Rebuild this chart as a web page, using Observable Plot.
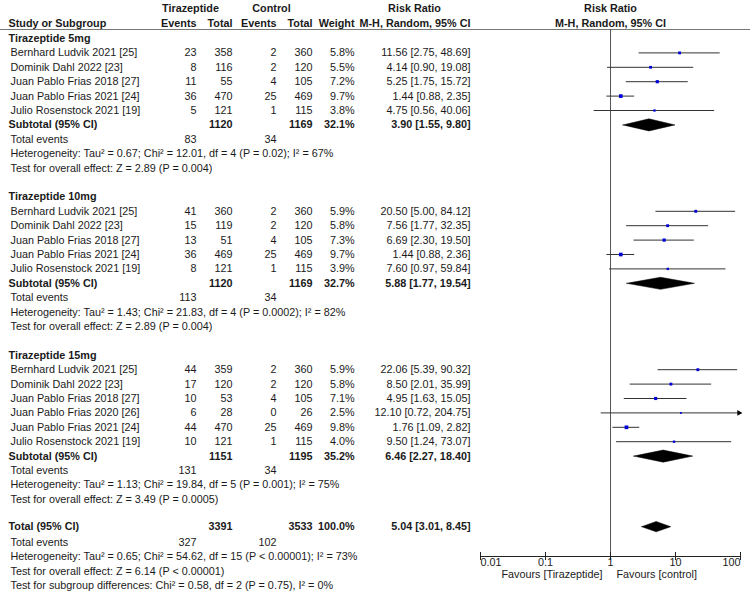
<!DOCTYPE html>
<html><head><meta charset="utf-8">
<script src="https://cdn.jsdelivr.net/npm/d3@7"></script>
<script src="https://cdn.jsdelivr.net/npm/@observablehq/plot@0.6"></script>
<style>
body{margin:0;background:#fff}
#chart{width:750px;height:591px;overflow:hidden}
</style>
</head><body><div id="chart"></div>
<script>
// ---------- data ----------
const groupNames = ["Tirazeptide 5mg", "Tirazeptide 10mg", "Tirazeptide 15mg"];
const studyNames = [
  "Bernhard Ludvik 2021 [25]", "Dominik Dahl 2022 [23]", "Juan Pablo Frias 2018 [27]", "Juan Pablo Frias 2021 [24]", "Julio Rosenstock 2021 [19]",
  "Bernhard Ludvik 2021 [25]", "Dominik Dahl 2022 [23]", "Juan Pablo Frias 2018 [27]", "Juan Pablo Frias 2021 [24]", "Julio Rosenstock 2021 [19]",
  "Bernhard Ludvik 2021 [25]", "Dominik Dahl 2022 [23]", "Juan Pablo Frias 2018 [27]", "Juan Pablo Frias 2020 [26]", "Juan Pablo Frias 2021 [24]", "Julio Rosenstock 2021 [19]"
];
const studyGroup = [0,0,0,0,0, 1,1,1,1,1, 2,2,2,2,2,2];
const expEvents = [23,8,11,36,5, 41,15,13,36,8, 44,17,10,6,44,10];
const expTotal  = [358,116,55,470,121, 360,119,51,469,121, 359,120,53,28,470,121];
const ctlEvents = [2,2,4,25,1, 2,2,4,25,1, 2,2,4,0,25,1];
const ctlTotal  = [360,120,105,469,115, 360,120,105,469,115, 360,120,105,26,469,115];
const weights   = [5.8,5.5,7.2,9.7,3.8, 5.9,5.8,7.3,9.7,3.9, 5.9,5.8,7.1,2.5,9.8,4.0];
const rr        = [11.56,4.14,5.25,1.44,4.75, 20.50,7.56,6.69,1.44,7.60, 22.06,8.50,4.95,12.10,1.76,9.50];
const rrLo      = [2.75,0.90,1.75,0.88,0.56, 5.00,1.77,2.30,0.88,0.97, 5.39,2.01,1.63,0.72,1.09,1.24];
const rrHi      = [48.69,19.08,15.72,2.35,40.06, 84.12,32.35,19.50,2.36,59.84, 90.32,35.99,15.05,204.75,2.82,73.07];

const subExpTotal  = [1120, 1120, 1151];
const subCtlTotal  = [1169, 1169, 1195];
const subWeight    = [32.1, 32.7, 35.2];
const subRR        = [3.90, 5.88, 6.46];
const subLo        = [1.55, 1.77, 2.27];
const subHi        = [9.80, 19.54, 18.40];
const subExpEvents = [83, 113, 131];
const subCtlEvents = [34, 34, 34];
const subHet = [
  "Tau² = 0.67; Chi² = 12.01, df = 4 (P = 0.02); I² = 67%",
  "Tau² = 1.43; Chi² = 21.83, df = 4 (P = 0.0002); I² = 82%",
  "Tau² = 1.13; Chi² = 19.84, df = 5 (P = 0.001); I² = 75%"
];
const subTest = ["Z = 2.89 (P = 0.004)", "Z = 2.89 (P = 0.004)", "Z = 3.49 (P = 0.0005)"];

const totalExpTotal = 3391, totalCtlTotal = 3533, totalWeight = 100.0;
const totalRR = 5.04, totalLo = 3.01, totalHi = 8.45;
const totalExpEvents = 327, totalCtlEvents = 102;
const totalHet = "Tau² = 0.65; Chi² = 54.62, df = 15 (P < 0.00001); I² = 73%";
const totalTest = "Z = 6.14 (P < 0.00001)";
const subgroupTest = "Chi² = 0.58, df = 2 (P = 0.75), I² = 0%";

const axisTicks = [0.01, 0.1, 1, 10, 100];
const axisTickLabels = ["0.01", "0.1", "1", "10", "100"];
const favoursLeft = "Favours [Tirazeptide]";
const favoursRight = "Favours [control]";

// ---------- layout (pixel columns, row units) ----------
const W = 750, H = 591;
const mLeft = 480, mRight = 10, mTop = 29, mBottom = 35;
const FS = 10.8;
const colX = {title: 8, name: 10, h1: 190, h2: 271, h3: 414,
  expEv: 196, expTot: 232, ctlEv: 276, ctlTot: 312, weight: 354, rr: 470};
const colAnchor = {title: "start", name: "start", h1: "middle", h2: "middle", h3: "middle",
  expEv: "end", expTot: "end", ctlEv: "end", ctlTot: "end", weight: "end", rr: "end"};
const rowPx = 14.4, row0 = 38;
const xMin = axisTicks[0], xMax = axisTicks[axisTicks.length - 1];

const fmtRR = (e, l, h) => `${e.toFixed(2)} [${l.toFixed(2)}, ${h.toFixed(2)}]`;
const texts = [], studyRows = [], diamonds = [];
const T = (k, col, text, bold = false) => texts.push({k, col, text: String(text), bold});

// headers
T(-2.1, "h1", "Tirazeptide", true);
T(-2.1, "h2", "Control", true);
T(-2.1, "h3", "Risk Ratio", true);
T(-1.05, "title", "Study or Subgroup", true);
T(-1.05, "expEv", "Events", true);
T(-1.05, "expTot", "Total", true);
T(-1.05, "ctlEv", "Events", true);
T(-1.05, "ctlTot", "Total", true);
T(-1.05, "weight", "Weight", true);
T(-1.05, "rr", "M-H, Random, 95% CI", true);
const rightHeaders = [{k: -2.1, text: "Risk Ratio"}, {k: -1.05, text: "M-H, Random, 95% CI"}];

let k = 0;
groupNames.forEach((g, gi) => {
  T(k, "title", g, true); k++;
  studyNames.forEach((n, i) => {
    if (studyGroup[i] !== gi) return;
    T(k, "name", n);
    T(k, "expEv", expEvents[i]); T(k, "expTot", expTotal[i]);
    T(k, "ctlEv", ctlEvents[i]); T(k, "ctlTot", ctlTotal[i]);
    T(k, "weight", weights[i].toFixed(1) + "%");
    T(k, "rr", fmtRR(rr[i], rrLo[i], rrHi[i]));
    studyRows.push({k, est: rr[i], lo: rrLo[i], hi: rrHi[i], w: weights[i]});
    k++;
  });
  T(k, "title", "Subtotal (95% CI)", true);
  T(k, "expTot", subExpTotal[gi], true); T(k, "ctlTot", subCtlTotal[gi], true);
  T(k, "weight", subWeight[gi].toFixed(1) + "%", true);
  T(k, "rr", fmtRR(subRR[gi], subLo[gi], subHi[gi]), true);
  diamonds.push({id: gi, k, est: subRR[gi], lo: subLo[gi], hi: subHi[gi], h: 0.42});
  k++;
  T(k, "name", "Total events"); T(k, "expEv", subExpEvents[gi]); T(k, "ctlEv", subCtlEvents[gi]); k++;
  T(k, "name", "Heterogeneity: " + subHet[gi]); k++;
  T(k, "name", "Test for overall effect: " + subTest[gi]); k += 2;
});
k -= 0.1;
T(k, "title", "Total (95% CI)", true);
T(k, "expTot", totalExpTotal, true); T(k, "ctlTot", totalCtlTotal, true);
T(k, "weight", totalWeight.toFixed(1) + "%", true);
T(k, "rr", fmtRR(totalRR, totalLo, totalHi), true);
diamonds.push({id: 3, k, est: totalRR, lo: totalLo, hi: totalHi, h: 0.36});
k = Math.round(k + 1);
T(k, "name", "Total events"); T(k, "expEv", totalExpEvents); T(k, "ctlEv", totalCtlEvents); k++;
T(k, "name", "Heterogeneity: " + totalHet); k++;
T(k, "name", "Test for overall effect: " + totalTest); k++;
T(k, "name", "Test for subgroup differences: " + subgroupTest);
const kLast = k;

const diamondPts = diamonds.flatMap(d => [
  {id: d.id, x: d.lo, y: d.k}, {id: d.id, x: d.est, y: d.k - d.h},
  {id: d.id, x: d.hi, y: d.k}, {id: d.id, x: d.est, y: d.k + d.h}, {id: d.id, x: d.lo, y: d.k}
]);

// tick labels: ends aligned inward like the reference
const tickLabelData = axisTicks.map((v, i) => ({v, label: axisTickLabels[i],
  anchor: i === 0 ? "start" : i === axisTicks.length - 1 ? "end" : "middle"}));

// text marks by column & weight
const FONT = "'Liberation Sans', Arial, sans-serif";
const INK = "#1a1a1a";
const textMarks = [];
for (const col of Object.keys(colX)) {
  for (const bold of [false, true]) {
    const data = texts.filter(t => t.col === col && t.bold === bold);
    if (!data.length) continue;
    textMarks.push(Plot.text(data, {
      y: "k", text: "text", frameAnchor: "left", dx: colX[col] - mLeft,
      textAnchor: colAnchor[col], fontSize: FS, fontWeight: bold ? "bold" : "normal",
      fill: INK
    }));
  }
}
const tickTextMarks = ["start", "middle", "end"].map(a =>
  Plot.text(tickLabelData.filter(d => d.anchor === a), {x: "v", text: "label", frameAnchor: "bottom",
    dy: 9, textAnchor: a, fontSize: FS, fill: INK}));

const chart = Plot.plot({
  width: W, height: H,
  marginLeft: mLeft, marginRight: mRight, marginTop: mTop, marginBottom: mBottom,
  style: {fontFamily: FONT, fontSize: FS + "px", background: "#fff"},
  x: {type: "log", domain: [xMin, xMax], axis: null},
  y: {domain: [0, kLast], range: [row0, row0 + rowPx * kLast], axis: null},
  r: {type: "sqrt", domain: [0, 10], range: [0, 2.1]},
  marks: [
    Plot.ruleY([-0.625], {stroke: "#777", insetLeft: -mLeft, insetRight: -mRight}),
    Plot.ruleX([1], {stroke: "#555"}),
    Plot.frame({anchor: "bottom", stroke: "#222"}),
    Plot.axisX({ticks: axisTicks, tickFormat: () => "", tickSize: 8, dy: -4, stroke: "#222"}),
    ...tickTextMarks,
    Plot.text([favoursLeft], {x: () => 1, text: d => d, frameAnchor: "bottom", dy: 21, dx: -8,
      textAnchor: "end", fontSize: FS, fill: INK}),
    Plot.text([favoursRight], {x: () => 1, text: d => d, frameAnchor: "bottom", dy: 21, dx: 6,
      textAnchor: "start", fontSize: FS, fill: INK}),
    Plot.text(rightHeaders, {x: () => 1, y: "k", text: "text", textAnchor: "middle",
      fontSize: FS, fontWeight: "bold", fill: INK}),
    Plot.ruleY(studyRows, {y: "k", x1: d => Math.max(d.lo, xMin), x2: d => Math.min(d.hi, xMax), stroke: "#333"}),
    Plot.dot(studyRows.filter(d => d.hi > xMax), {x: () => xMax, y: "k", symbol: "triangle", rotate: 90,
      r: 2.2, fill: "#000", dx: -1.5}),
    Plot.dot(studyRows, {x: "est", y: "k", r: "w", symbol: "square", fill: "#0000d8", stroke: "none"}),
    Plot.line(diamondPts, {x: "x", y: "y", z: "id", fill: "#000", stroke: "#000", strokeWidth: 0.5}),
    ...textMarks
  ]
});
document.getElementById("chart").appendChild(chart);
</script>
</body></html>
